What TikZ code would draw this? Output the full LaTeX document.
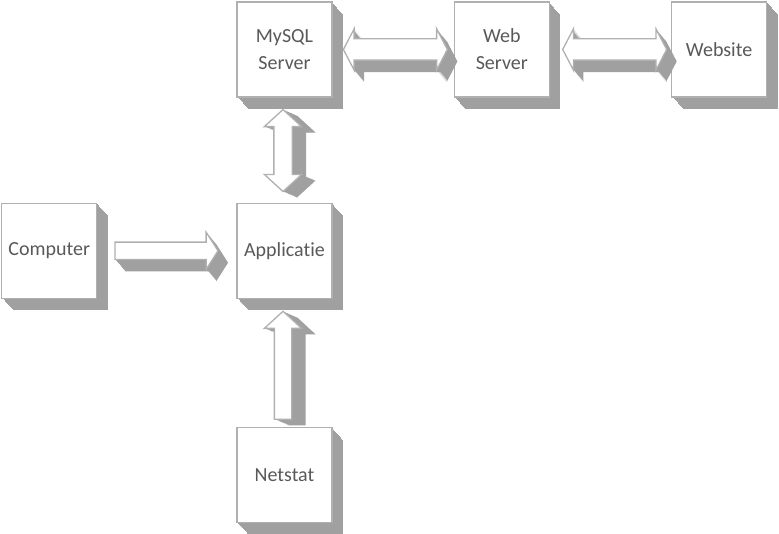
\documentclass[tikz,border=0pt]{standalone}
\usepackage{fontspec}
\setmainfont{Carlito}[Ligatures=NoCommon]
\usetikzlibrary{positioning, shapes.arrows, shadows}

\definecolor{edgegray}{HTML}{B0B0B0}
\definecolor{sidegray}{HTML}{A0A0A0}
\definecolor{labelgray}{HTML}{595959}

\tikzset{
  boxdepth/.style={general shadow={fill=sidegray, shadow xshift=#1pt, shadow yshift=-1.1*#1pt}},
  hdepth/.style={general shadow={fill=sidegray, shadow xshift=#1pt, shadow yshift=-1.2*#1pt}},
  vdepth/.style={general shadow={fill=sidegray, shadow xshift=1.4*#1pt, shadow yshift=-0.6*#1pt}},
}

\begin{document}
\begin{tikzpicture}[
  x=1pt, y=1pt,
  unit/.style={draw=edgegray, line width=1.3pt, fill=white, minimum width=95pt, minimum height=95pt,
    inner sep=2pt, align=center, text=labelgray, font=\fontsize{20}{27}\selectfont, boxdepth/.list={1,...,11}},
  flow/.style={draw=edgegray, line width=1.3pt, fill=white, inner sep=0pt},
  hflow/.style={flow, hdepth/.list={1,...,10}},
  vflow/.style={flow, vdepth/.list={1,...,10}},
]
\useasboundingbox (0,0) rectangle (779,534);

% boxes
\node[unit] (mysql) at (284.5,484.5) {MySQL\\Server};
\node[unit, right=121pt of mysql] (web) {Web\\Server};
\node[unit, right=121pt of web] (website) {Website};
\node[unit, below=105pt of mysql] (app) {Applicatie};
\node[unit, left=139pt of app] (computer) {Computer};
\node[unit, below=128pt of app] (netstat) {Netstat};

% block arrows
\node[hflow, double arrow, inner sep=10pt, double arrow head extend=10pt, double arrow tip angle=125,
  minimum height=104pt, right=10pt of mysql] (dbweb) {};
\node[hflow, double arrow, inner sep=10pt, double arrow head extend=10pt, double arrow tip angle=125,
  minimum height=104pt, right=12pt of web] (websiteweb) {};
\node[hflow, single arrow, inner sep=8pt, single arrow head extend=10pt, single arrow tip angle=115,
  minimum height=103pt, right=17pt of computer] (compapp) {};
\node[vflow, double arrow, shape border rotate=90, inner sep=8.5pt, double arrow head extend=9.5pt,
  double arrow tip angle=95, minimum height=82pt, below=11pt of mysql, xshift=-1.5pt] (dbapp) {};
\node[vflow, single arrow, shape border rotate=90, inner sep=8pt, single arrow head extend=10pt,
  single arrow tip angle=95, minimum height=108pt, above=7pt of netstat, xshift=-1.5pt] (netapp) {};
\end{tikzpicture}
\end{document}
